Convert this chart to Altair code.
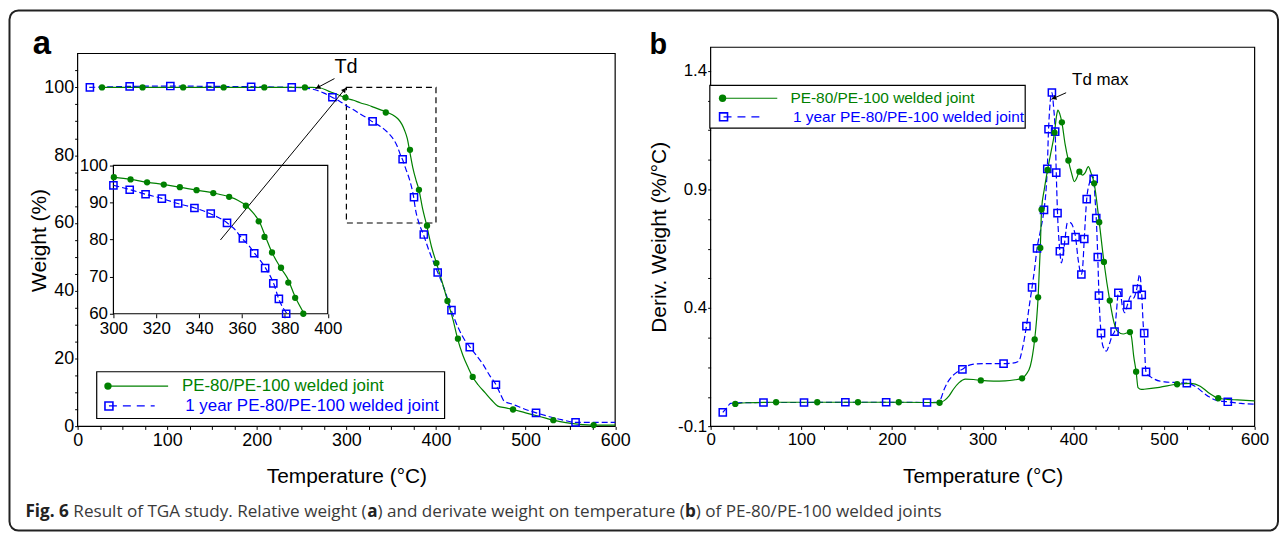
import altair as alt
import pandas as pd

GREEN = "#008000"
BLUE = "#0000FF"
FONT = "Liberation Sans"
CAP_FONT = "Open Sans"

# ---------------- panel a : relative weight ----------------
a_green_T = [27, 100, 200, 253, 262, 270, 280, 290, 300, 308, 316, 324, 331, 339, 347, 354, 358, 362, 365, 368,
             371, 374, 378, 381, 385, 389, 395, 401, 407, 413, 419, 424, 430, 436, 441, 447, 455, 462, 469, 478,
             486, 500, 515, 531, 545, 558, 576, 600]
a_green_W = [100, 100, 100, 100, 100, 99.9, 98.9, 97.9, 96.8, 96.2, 95.4, 94.8, 94.1, 93.3, 92.5, 91.5, 90.6, 89.1, 87.3, 84.9,
             80.7, 76.5, 72.4, 69.8, 64.3, 60, 53, 47.8, 42.5, 37, 31.5, 26, 21, 17.3, 14.6, 12.3, 9.9, 7.8, 6.0, 5.5,
             5.0, 4.0, 3.0, 1.85, 1.1, 0.7, 0.4, 0.4]
a_blue_T = [13, 58, 103, 148, 194, 239, 255, 265, 275, 284, 292, 300, 308, 315, 323, 330, 338, 345, 353, 357,
            360, 363, 366, 371, 375, 377, 381, 386, 392, 398, 402, 410, 417, 425, 432, 438, 445, 452, 460, 467,
            472, 476, 486, 500, 512, 525, 540, 556, 575, 600]
a_blue_W = [100, 100.3, 100.4, 100.3, 100.2, 100, 99.8, 99.3, 98.3, 97.1, 96, 94.6, 93.4, 92.2, 91.0, 89.7, 88.5, 87.0, 84.5, 82.5,
            80.3, 78.5, 76.2, 72.3, 67.8, 64.2, 60, 56.6, 52, 48, 45.4, 40, 34.3, 29, 25.5, 23.4, 21, 18.5, 15, 12.3,
            9.5, 7.5, 6.5, 5.0, 4.0, 3.0, 2.0, 1.2, 1.2, 1.2]
a_green_mk_T = [27.2, 72.5, 117.8, 163, 208.4, 253.7, 299, 344, 371, 381, 390, 400.5, 412.8, 424.5, 441, 486, 531, 576]
a_green_mk_W = [100, 100, 100, 100, 100, 100, 97.0, 92.6, 81.6, 69.8, 59.2, 48.2, 37, 25.9, 14.6, 5.0, 1.85, 0.4]
a_blue_mk_T = [13.7, 58.1, 103.5, 148.4, 193.7, 239, 284.4, 329.3, 362.8, 375.5, 386.4, 401.9, 417.3, 437.7, 466.9, 511.7, 555.8]
a_blue_mk_W = [100, 100.3, 100.4, 100.3, 100.2, 100, 97.1, 90.0, 78.8, 67.6, 56.6, 45.4, 34.3, 23.4, 12.3, 4.0, 1.2]

# inset markers (300-400 °C zoom)
in_green_mk_T = [300.2, 308, 315.7, 323.5, 331, 338.8, 346.6, 354, 361.8, 367.8, 370.5, 374, 378.2, 381.6, 384.8, 388.6]
in_green_mk_W = [96.8, 96.2, 95.4, 94.8, 94.1, 93.3, 92.5, 91.5, 89.1, 84.9, 80.7, 76.5, 72.4, 68.4, 64.3, 60]
in_blue_mk_T = [300, 307.6, 315, 322.6, 330.2, 337.8, 345.4, 353, 360.4, 365.7, 370.8, 374.6, 377.2, 380.6]
in_blue_mk_W = [94.6, 93.4, 92.2, 91.0, 89.7, 88.5, 87.0, 84.5, 80.3, 76.3, 72.3, 68.2, 64.0, 60]

# ---------------- panel b : derivative weight ----------------
b_green_T = [27, 40, 72, 118, 163, 208, 240, 252.5, 258, 263, 268, 274, 281, 290, 298, 312, 325, 336, 343.5, 348,
             352.6, 355, 357.4, 359.5, 361.2, 362.5, 363.6, 365, 368, 371.6, 375, 379.3, 381.5, 383, 385,
             387.4, 391, 394.6, 398, 401.2, 404, 406.7, 410, 413, 416.6, 419.5, 423, 428.6, 433.8, 440.2,
             445, 448.6, 455, 462.5, 464.5, 466.5, 469.3, 471.4, 475, 478, 495, 514.5, 530, 540, 550,
             559.9, 570, 581, 600]
b_green_D = [-0.005, 0.0, 0.002, 0.002, 0.002, 0.002, 0.001, 0.0, 0.01, 0.029, 0.058, 0.085, 0.1, 0.098, 0.094, 0.091, 0.092, 0.097, 0.103, 0.12,
             0.155, 0.2, 0.267, 0.35, 0.445, 0.56, 0.653, 0.815, 0.9, 0.982, 1.05, 1.14, 1.21, 1.235, 1.22,
             1.183, 1.09, 1.022, 0.97, 0.933, 0.95, 0.975, 0.96, 0.97, 0.996, 0.97, 0.926, 0.762, 0.594, 0.431,
             0.337, 0.302, 0.29, 0.298, 0.27, 0.2, 0.131, 0.064, 0.056, 0.057, 0.065, 0.078, 0.082, 0.07, 0.04,
             0.019, 0.014, 0.012, 0.008]
b_blue_T = [13.4, 18, 22, 30, 58.3, 103, 148.6, 193.6, 238.6, 250, 253, 257.6, 262, 266.7, 272, 277.7, 283, 288.7, 302.6, 323.1,
            333, 339.8, 344, 348.3, 351.5, 354.5, 357.5, 360, 364, 367.7, 370, 371.3, 372.7, 376.4, 378.2,
            380, 381.2, 382.6, 385.2, 386.8, 389, 390.7, 393.5, 396.5, 399.5, 402.5, 405.5, 408.9, 410.5, 412.1,
            414.8, 418, 420.5, 422.5, 424, 425.3, 427, 428.3, 430.6, 433, 436.5, 440, 443, 445.5, 447.5,
            449.7, 451.5, 454, 456.7, 459.7, 463.3, 466, 470, 473.2, 475.5, 477.3, 478.2, 479, 480.2, 485,
            489.7, 500.7, 515, 525.2, 533.6, 548, 558, 570.4, 585, 600]
b_blue_D = [-0.041, -0.02, -0.003, 0.0, 0.001, 0.001, 0.002, 0.002, 0.001, 0.002, 0.01, 0.057, 0.09, 0.113, 0.13, 0.141, 0.155, 0.162, 0.165, 0.165,
            0.167, 0.175, 0.23, 0.323, 0.41, 0.487, 0.57, 0.651, 0.73, 0.814, 0.9, 0.987, 1.154, 1.309, 1.25,
            1.144, 0.971, 0.80, 0.639, 0.59, 0.63, 0.685, 0.76, 0.76, 0.744, 0.699, 0.6, 0.541, 0.58, 0.691,
            0.859, 0.93, 0.96, 0.945, 0.86, 0.779, 0.615, 0.452, 0.294, 0.235, 0.218, 0.25, 0.285, 0.30, 0.38,
            0.464, 0.47, 0.41, 0.38, 0.413, 0.45, 0.44, 0.48, 0.541, 0.455, 0.32, 0.294, 0.2, 0.13, 0.11,
            0.099, 0.088, 0.085, 0.083, 0.071, 0.029, 0.01, 0.004, -0.003, -0.006]
b_green_mk_T = [27.2, 72.2, 117.6, 162.5, 207.5, 252.5, 298, 343.5, 357.4, 361.2, 363.6, 365, 371.6, 379.3, 387.4,
                394.6, 406.7, 423, 428.6, 433.8, 440.2, 462.5, 469.3, 514.5, 559.9]
b_green_mk_D = [-0.005, 0.002, 0.002, 0.002, 0.002, 0.0, 0.094, 0.103, 0.267, 0.445, 0.653, 0.815, 0.982, 1.14, 1.183,
                1.022, 0.975, 0.926, 0.762, 0.594, 0.431, 0.298, 0.131, 0.078, 0.019]
b_blue_mk_T = [13.4, 58.3, 103, 148.6, 193.6, 238.6, 277.7, 323.1, 348.3, 354.5, 360, 367.7, 371.3, 372.7, 376.4,
               380, 381.2, 382.6, 385.2, 390.7, 402.5, 408.9, 412.1, 414.8, 422.5, 425.3, 427, 428.3, 430.6, 445.5,
               449.7, 459.7, 470, 475.5, 478.2, 480.2, 525.2, 570.4]
b_blue_mk_D = [-0.041, 0.001, 0.001, 0.002, 0.002, 0.001, 0.141, 0.165, 0.323, 0.487, 0.651, 0.814, 0.987, 1.154, 1.309,
               1.144, 0.971, 0.80, 0.639, 0.685, 0.699, 0.541, 0.691, 0.859, 0.945, 0.779, 0.615, 0.452, 0.294, 0.30,
               0.464, 0.413, 0.48, 0.455, 0.294, 0.13, 0.083, 0.004]

legend_labels = ["PE-80/PE-100 welded joint", "1 year PE-80/PE-100 welded joint"]
caption_parts = [("Fig. 6", True), ("Result of TGA study. Relative weight (", False), ("a", True),
                 (") and derivate weight on temperature (", False), ("b", True),
                 (") of PE-80/PE-100 welded joints", False)]

# ---------------- geometry ----------------
A_W, B_W, H = 540.5, 547.0, 381.3
A_TOP = 6.3

xa = alt.Scale(domain=[0, 600], range=[0, A_W], nice=False, zero=False)
ya = alt.Scale(domain=[0, 110], range=[H, A_TOP], nice=False, zero=False)
xi = alt.Scale(domain=[300, 400], range=[36, 251.5], nice=False, zero=False)
yi = alt.Scale(domain=[60, 100], range=[268, 118.7], nice=False, zero=False)
xb = alt.Scale(domain=[0, 600], range=[0, B_W], nice=False, zero=False)
yb = alt.Scale(domain=[-0.1, 1.5], range=[H, 0], nice=False, zero=False)

ONE = pd.DataFrame({"k": [0]})

common_ax = dict(grid=False, domain=False, tickColor="black", tickWidth=1, labelColor="black",
                 labelFont=FONT, titleFont=FONT, titleColor="black", titleFontWeight="normal",
                 labelOverlap=False, labelFlush=False)

ax_a_x = alt.Axis(orient="bottom", values=list(range(0, 601, 25)),
                  labelExpr="datum.value % 100 === 0 ? datum.label : ''",
                  tickSize=3, labelPadding=2, labelFontSize=18,
                  title="Temperature (°C)", titleFontSize=21, titleY=56, titleBaseline="alphabetic", **common_ax)
ax_a_y = alt.Axis(orient="left", values=list(range(0, 106, 5)),
                  labelExpr="datum.value % 20 === 0 ? datum.label : ''",
                  tickSize=3, labelPadding=1, labelFontSize=18,
                  title="Weight (%)", titleFontSize=21, titleX=-32, titleBaseline="alphabetic", **common_ax)
ax_i_x = alt.Axis(orient="bottom", offset=268 - H, values=list(range(300, 401, 20)),
                  tickSize=4, labelPadding=3, labelFontSize=17, title="", **common_ax)
ax_i_y = alt.Axis(orient="left", offset=-36, values=list(range(60, 101, 10)),
                  tickSize=4, labelPadding=2, labelFontSize=17, title="", **common_ax)
ax_b_x = alt.Axis(orient="bottom", values=list(range(0, 601, 25)),
                  labelExpr="datum.value % 100 === 0 ? datum.label : ''",
                  tickSize=3, labelPadding=2, labelFontSize=17,
                  title="Temperature (°C)", titleFontSize=21, titleY=56, titleBaseline="alphabetic", **common_ax)
ax_b_y = alt.Axis(orient="left", values=[round(-0.1 + 0.125 * k, 3) for k in range(13)],
                  labelExpr="abs((datum.value + 0.1) / 0.5 - round((datum.value + 0.1) / 0.5)) < 0.001 ? "
                            "((datum.value < 0 ? '-' : '') + format(abs(datum.value), '.1f')) : ''",
                  tickSize=3, labelPadding=1, labelFontSize=17,
                  title="Deriv. Weight (%/°C)", titleFontSize=21, titleX=-45, titleBaseline="alphabetic", **common_ax)

# each group: (x scale, y scale, x axis, y axis) - every layer of a group repeats the same axis spec
GA = (xa, ya, ax_a_x, ax_a_y)
GI = (xi, yi, ax_i_x, ax_i_y)
GB = (xb, yb, ax_b_x, ax_b_y)


def enc_xy(g, fx, fy):
    xs, ys, axx, axy = g
    return dict(x=alt.X(fx, scale=xs, axis=axx), y=alt.Y(fy, scale=ys, axis=axy))


def frame(x1, x2, y1, y2, g, dash=None):
    kw = dict(fillOpacity=0, stroke="black", strokeWidth=1.2)
    if dash:
        kw["strokeDash"] = dash
    d = pd.DataFrame({"x1": [x1], "x2": [x2], "y1": [y1], "y2": [y2]})
    return alt.Chart(d).mark_rect(**kw).encode(x2="x2:Q", y2="y2:Q", **enc_xy(g, "x1:Q", "y1:Q"))


def curve(T, V, color, g, dash=None):
    kw = dict(color=color, strokeWidth=1.2, interpolate="monotone")
    if dash:
        kw["strokeDash"] = dash
    return alt.Chart(pd.DataFrame({"T": T, "V": V})).mark_line(**kw).encode(**enc_xy(g, "T:Q", "V:Q"))


def gpts(T, V, g):
    return alt.Chart(pd.DataFrame({"T": T, "V": V})).mark_point(
        shape="circle", filled=True, size=40, color=GREEN, opacity=1).encode(**enc_xy(g, "T:Q", "V:Q"))


def bpts(T, V, g):
    return alt.Chart(pd.DataFrame({"T": T, "V": V})).mark_point(
        shape="square", filled=False, size=52, color=BLUE, strokeWidth=1.5, opacity=1).encode(**enc_xy(g, "T:Q", "V:Q"))


def seg(x1, y1, x2, y2, g):
    d = pd.DataFrame({"x1": [x1], "x2": [x2], "y1": [y1], "y2": [y2]})
    return alt.Chart(d).mark_rule(color="black", strokeWidth=1).encode(x2="x2:Q", y2="y2:Q", **enc_xy(g, "x1:Q", "y1:Q"))


def head(x, y, ang, g):
    return alt.Chart(pd.DataFrame({"x": [x], "y": [y]})).mark_point(
        shape="triangle-up", filled=True, size=28, angle=ang, color="black", opacity=1).encode(**enc_xy(g, "x:Q", "y:Q"))


def dtext(x, y, txt, g, size, align="center"):
    return alt.Chart(pd.DataFrame({"x": [x], "y": [y]})).mark_text(
        font=FONT, fontSize=size, align=align, baseline="middle", color="black").encode(
        text=alt.value(txt), **enc_xy(g, "x:Q", "y:Q"))


def ptext(x, y, txt, size, color="black", weight="normal", font=FONT, baseline="middle"):
    return alt.Chart(ONE).mark_text(font=font, fontSize=size, fontWeight=weight, align="left",
                                    baseline=baseline, color=color).encode(
        x=alt.value(x), y=alt.value(y), text=alt.value(txt))


def prule(x1, x2, y, color, dash=None):
    kw = dict(color=color, strokeWidth=1.2)
    if dash:
        kw["strokeDash"] = dash
    return alt.Chart(ONE).mark_rule(**kw).encode(x=alt.value(x1), x2=alt.value(x2), y=alt.value(y))


def ppoint(x, y, kind):
    if kind == "g":
        m = alt.Chart(ONE).mark_point(shape="circle", filled=True, size=55, color=GREEN, opacity=1)
    else:
        m = alt.Chart(ONE).mark_point(shape="square", filled=False, size=64, color=BLUE, strokeWidth=1.6, opacity=1)
    return m.encode(x=alt.value(x), y=alt.value(y))


def pbox(x1, x2, y1, y2, stroke="black", sw=1.2, radius=0):
    kw = dict(fill="white", fillOpacity=0, stroke=stroke, strokeWidth=sw)
    if radius:
        kw["cornerRadius"] = radius
    return alt.Chart(ONE).mark_rect(**kw).encode(
        x=alt.value(x1), x2=alt.value(x2), y=alt.value(y1), y2=alt.value(y2))


def legend(x1, x2, y1, y2, r1, r2, mx, l1, l2, t1, t2, size):
    return [
        alt.Chart(ONE).mark_rect(fill="white", stroke="black", strokeWidth=1.2).encode(
            x=alt.value(x1), x2=alt.value(x2), y=alt.value(y1), y2=alt.value(y2)),
        prule(mx, l1, r1, GREEN), ppoint(mx, r1, "g"), ptext(t1, r1, legend_labels[0], size, GREEN),
        prule(mx + 1, l2, r2, BLUE, [8, 6]), ppoint(mx + 1, r2, "b"), ptext(t2, r2, legend_labels[1], size, BLUE),
    ]


# caption pieces laid out with approximate Open Sans advance widths
OS_REG = {' ': 532, '(': 604, ')': 604, '-': 659, '.': 545, '/': 752, 'A': 1296, 'E': 1139, 'G': 1491,
          'P': 1237, 'R': 1264, 'T': 1141, 'a': 1139, 'b': 1255, 'd': 1255, 'e': 1149, 'f': 694, 'g': 1122,
          'h': 1257, 'i': 518, 'j': 518, 'l': 518, 'm': 1905, 'n': 1257, 'o': 1237, 'p': 1255, 'r': 836,
          's': 977, 't': 723, 'u': 1257, 'v': 1026, 'w': 1593, 'y': 1028}
OS_BOLD = {'F': 1141, 'i': 623, 'g': 1135, '.': 604, ' ': 532, '6': 1171, 'a': 1237, 'b': 1294}
CAP_SIZE = 17.2


def text_w(s, bold):
    tbl = OS_BOLD if bold else OS_REG
    return sum(tbl.get(c, 1171) for c in s) / 2048 * CAP_SIZE


cap_layers = []
cx = 25 - 77.5
for i, (s, bold) in enumerate(caption_parts):
    cap_layers.append(ptext(cx, 518 - 46, s, CAP_SIZE, "#222222" if bold else "#3a3a3a",
                            "bold" if bold else "normal", CAP_FONT, "alphabetic"))
    cx += text_w(s, bold)
    if i == 0:
        cx += text_w(" ", False)

# ---------------- panel a ----------------
inset_green = [(t, w) for t, w in zip(a_green_T, a_green_W) if 300 <= t <= 400 and w >= 60]
inset_blue = [(t, w) for t, w in zip(a_blue_T, a_blue_W) if 300 <= t <= 400 and w >= 60]

main_layers = [
    pbox(-68.5, 1207, -37, 486, stroke="#222222", sw=2, radius=9),
    frame(0, 600, 0, 110, GA),
    frame(300, 400, 60, 100, GA, dash=[6, 4]),
    curve(a_blue_T, a_blue_W, BLUE, GA, dash=[6, 3]),
    curve(a_green_T, a_green_W, GREEN, GA),
    bpts(a_blue_mk_T, a_blue_mk_W, GA),
    gpts(a_green_mk_T, a_green_mk_W, GA),
    seg(159.4, 55.0, 300, 100, GA),
    head(297.9, 99.3, 39, GA),
    seg(286.7, 102.6, 265.3, 99.6, GA),
    head(268.2, 100.0, 242, GA),
    dtext(299.6, 106.0, "Td", GA, 20),
    ptext(-45, 7, "a", 33, weight="bold", baseline="alphabetic"),
] + legend(19.2, 369, 326.3, 373.3, 340.7, 360.7, 30.5, 91, 77.5, 104.9, 108.2, 17) + cap_layers

inset_layers = [
    frame(300, 400, 60, 100, GI),
    curve([p[0] for p in inset_blue], [p[1] for p in inset_blue], BLUE, GI, dash=[6, 3]),
    curve([p[0] for p in inset_green], [p[1] for p in inset_green], GREEN, GI),
    bpts(in_blue_mk_T, in_blue_mk_W, GI),
    gpts(in_green_mk_T, in_green_mk_W, GI),
]

panelA = alt.layer(alt.layer(*main_layers), alt.layer(*inset_layers)).resolve_scale(
    x="independent", y="independent").properties(width=A_W, height=H)

# ---------------- panel b ----------------
b_layers = [
    frame(0, 600, -0.1, 1.5, GB),
    curve(b_blue_T, b_blue_D, BLUE, GB, dash=[6, 3]),
    curve(b_green_T, b_green_D, GREEN, GB),
    bpts(b_blue_mk_T, b_blue_mk_D, GB),
    gpts(b_green_mk_T, b_green_mk_D, GB),
    seg(392.1, 1.308, 375.7, 1.28, GB),
    head(378.7, 1.285, 246, GB),
    dtext(398.7, 1.361, "Td max", GB, 17, align="left"),
    ptext(-61.5, 7, "b", 29, weight="bold", baseline="alphabetic"),
] + legend(-0.8, 316.3, 38.3, 81.3, 51.3, 70, 12, 67, 54.5, 80.2, 82.7, 15.5)

panelB = alt.layer(*b_layers).properties(width=B_W, height=H)

chart = alt.hconcat(panelA, panelB, spacing=95.5, bounds="flush").properties(
    padding=0, background="white").configure_view(strokeWidth=0)

chart.save("out.html", embed_options={"renderer": "svg", "actions": False})
